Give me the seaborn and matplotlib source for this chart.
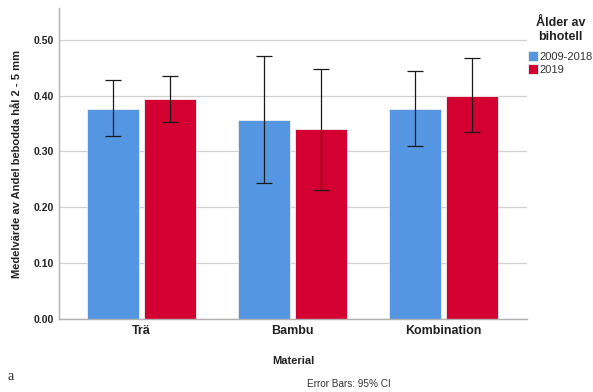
import numpy as np
import pandas as pd
import matplotlib
matplotlib.use("Agg")
import matplotlib.pyplot as plt
import seaborn as sns

materials = ["Trä", "Bambu", "Kombination"]
groups = ["2009-2018", "2019"]
means_2009 = [0.377, 0.356, 0.376]
means_2019 = [0.394, 0.340, 0.400]
ci_low_2009 = [0.327, 0.244, 0.309]
ci_high_2009 = [0.428, 0.471, 0.444]
ci_low_2019 = [0.352, 0.231, 0.335]
ci_high_2019 = [0.436, 0.448, 0.467]
yticks = [0.0, 0.1, 0.2, 0.3, 0.4, 0.5]

sns.set_style("white")
plt.rcParams["font.family"] = ["Liberation Sans", "DejaVu Sans"]

df = pd.DataFrame({
    "Material": materials * 2,
    "Ålder": [groups[0]] * 3 + [groups[1]] * 3,
    "Medel": means_2009 + means_2019,
})

fig = plt.figure(figsize=(5.93, 3.92), dpi=100)
ax = fig.add_axes([59 / 593, 1 - 319 / 392, (527 - 59) / 593, (319 - 8) / 392])

palette = {groups[0]: "#5596E3", groups[1]: "#D50032"}
sns.barplot(data=df, x="Material", y="Medel", hue="Ålder", order=materials,
            hue_order=groups, palette=palette, width=0.75, gap=0.08,
            saturation=1, edgecolor="#f0f0f0", linewidth=0.6, ax=ax,
            errorbar=None, zorder=2)

# error bars at bar centers
for cont, means, lo, hi in zip(ax.containers,
                               [means_2009, means_2019],
                               [ci_low_2009, ci_low_2019],
                               [ci_high_2009, ci_high_2019]):
    xs = [p.get_x() + p.get_width() / 2 for p in cont.patches]
    m = np.array(means)
    yerr = np.vstack([m - np.array(lo), np.array(hi) - m])
    ax.errorbar(xs, m, yerr=yerr, fmt="none", ecolor="#1a1a1a",
                elinewidth=0.9, capsize=5.5, capthick=0.9, zorder=3)

ax.set_ylim(0, 0.557)
ax.set_xlim(-0.546, 2.553)
ax.set_yticks(yticks)
ax.set_yticklabels([f"{v:.2f}" for v in yticks], fontsize=7.5, fontweight="bold", color="#222222")
ax.set_xticks(range(len(materials)))
ax.set_xticklabels(materials, fontsize=9, fontweight="bold", color="#222222")
ax.yaxis.grid(True, color="#d0d0d0", linewidth=0.9, zorder=0)
ax.set_axisbelow(True)
for s in ["top", "right"]:
    ax.spines[s].set_visible(False)
for s in ["left", "bottom"]:
    ax.spines[s].set_color("#b0b0b0")
    ax.spines[s].set_linewidth(1.0)
ax.tick_params(axis="both", length=0, pad=4)
ax.set_xlabel("Material", fontsize=8, fontweight="bold", labelpad=14, color="#222222")
ax.set_ylabel("Medelvärde av Andel bebodda hål 2 - 5 mm", fontsize=8,
              fontweight="bold", color="#222222", labelpad=8)

leg = ax.legend(title="Ålder av\nbihotell", loc="upper left",
                bbox_to_anchor=(1.003, 0.97), frameon=False, fontsize=8,
                title_fontproperties={"weight": "bold", "size": 9},
                handlelength=0.85, handleheight=1.0, handletextpad=0.15,
                borderaxespad=0.0, labelspacing=0.15, borderpad=0.0)
leg._legend_box.align = "center"
leg._legend_box.sep = 6
leg.get_title().set_multialignment("center")
leg.get_title().set_color("#222222")
for t in leg.get_texts():
    t.set_color("#333333")

fig.text(8 / 593, 1 - 376 / 392, "a", fontsize=10, family="Liberation Serif",
         va="center", ha="left")
fig.text(349 / 593, 1 - 384 / 392, "Error Bars: 95% CI", fontsize=7.2,
         va="center", ha="center", color="#333333")

fig.savefig("out.png", dpi=100)
